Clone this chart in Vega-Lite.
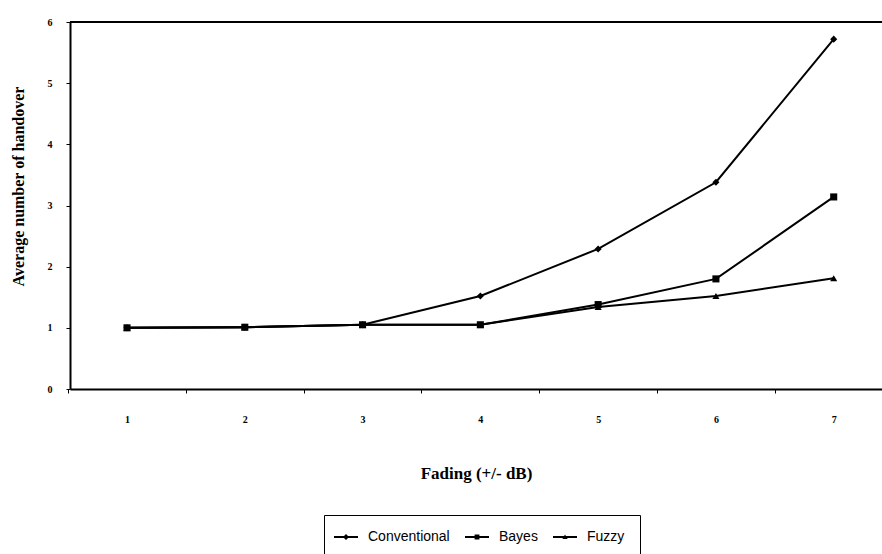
{
  "$schema": "https://vega.github.io/schema/vega-lite/v6.json",
  "width": 812,
  "height": 367,
  "autosize": {"type": "none"},
  "padding": {"left": 70, "top": 22, "right": 0, "bottom": 165},
  "background": "white",
  "config": {
    "view": {"stroke": null},
    "axis": {"grid": false, "domainColor": "black", "tickColor": "black", "labelColor": "black", "titleColor": "black", "domainWidth": 2, "tickWidth": 1}
  },
  "data": {
    "values": [
      {"fading": 1, "series": "Conventional", "value": 1.0},
      {"fading": 2, "series": "Conventional", "value": 1.01},
      {"fading": 3, "series": "Conventional", "value": 1.05},
      {"fading": 4, "series": "Conventional", "value": 1.52},
      {"fading": 5, "series": "Conventional", "value": 2.29},
      {"fading": 6, "series": "Conventional", "value": 3.38},
      {"fading": 7, "series": "Conventional", "value": 5.72},
      {"fading": 1, "series": "Bayes", "value": 1.0},
      {"fading": 2, "series": "Bayes", "value": 1.01},
      {"fading": 3, "series": "Bayes", "value": 1.05},
      {"fading": 4, "series": "Bayes", "value": 1.05},
      {"fading": 5, "series": "Bayes", "value": 1.38},
      {"fading": 6, "series": "Bayes", "value": 1.8},
      {"fading": 7, "series": "Bayes", "value": 3.14},
      {"fading": 1, "series": "Fuzzy", "value": 1.0},
      {"fading": 2, "series": "Fuzzy", "value": 1.01},
      {"fading": 3, "series": "Fuzzy", "value": 1.05},
      {"fading": 4, "series": "Fuzzy", "value": 1.05},
      {"fading": 5, "series": "Fuzzy", "value": 1.34},
      {"fading": 6, "series": "Fuzzy", "value": 1.52},
      {"fading": 7, "series": "Fuzzy", "value": 1.81}
    ]
  },
  "encoding": {
    "x": {
      "field": "fading", "type": "quantitative",
      "scale": {"domain": [0.516, 7.41], "nice": false, "zero": false},
      "axis": {
        "values": [1, 2, 3, 4, 5, 6, 7],
        "tickOffset": -59, "labelOffset": 59,
        "tickSize": 4, "labelPadding": 21,
        "labelFont": "Liberation Serif", "labelFontWeight": "bold", "labelFontSize": 10,
        "title": "Fading (+/- dB)", "titleFont": "Liberation Serif", "titleFontWeight": "bold", "titleFontSize": 17,
        "titlePadding": 41, "labelFlush": false
      }
    },
    "y": {
      "field": "value", "type": "quantitative",
      "scale": {"domain": [0, 6], "nice": false},
      "axis": {
        "values": [0, 1, 2, 3, 4, 5, 6],
        "tickSize": 4, "labelPadding": 14,
        "labelFont": "Liberation Serif", "labelFontWeight": "bold", "labelFontSize": 10,
        "title": "Average number of handover", "titleFont": "Liberation Serif", "titleFontWeight": "bold", "titleFontSize": 16,
        "titleX": -52, "titleY": 164, "titleAlign": "center", "titleBaseline": "middle", "titleAngle": -90
      }
    }
  },
  "layer": [
    {
      "mark": {"type": "rule", "color": "black", "strokeWidth": 2},
      "encoding": {"x": {"datum": 0.516}, "x2": {"datum": 7.41}, "y": {"datum": 6}}
    },
    {
      "mark": {"type": "line", "color": "black", "strokeWidth": 2},
      "encoding": {"detail": {"field": "series"}}
    },
    {
      "mark": {"type": "point", "filled": true, "color": "black", "size": 50, "opacity": 1},
      "encoding": {
        "shape": {
          "field": "series", "type": "nominal",
          "scale": {"domain": ["Conventional", "Bayes", "Fuzzy"], "range": ["diamond", "square", "triangle-up"]},
          "legend": null
        }
      }
    },
    {
      "mark": {"type": "point", "filled": true, "color": "black", "size": 64, "opacity": 0},
      "encoding": {
        "shape": {
          "field": "series", "type": "nominal",
          "scale": {"domain": ["Conventional", "Bayes", "Fuzzy"], "range": [
            "M-3,-0.22L3,-0.22L3,0.22L-3,0.22ZM-0.75,0L0,-0.75L0.75,0L0,0.75Z",
            "M-3,-0.22L3,-0.22L3,0.22L-3,0.22ZM-0.6,-0.6L0.6,-0.6L0.6,0.6L-0.6,0.6Z",
            "M-3,-0.22L3,-0.22L3,0.22L-3,0.22ZM-0.65,0.5L0,-0.65L0.65,0.5Z"
          ]},
          "legend": {
            "title": null,
            "orient": "none", "direction": "horizontal", "columns": 3,
            "legendX": 254, "legendY": 493,
            "strokeColor": "black", "padding": 15,
            "symbolSize": 64, "symbolOpacity": 1,
            "symbolFillColor": "black",
            "labelFont": "Liberation Sans", "labelFontSize": 14, "labelColor": "black",
            "columnPadding": 12, "labelOffset": 15,
            "encode": {
              "symbols": {
                "update": {
                  "fill": {"value": "black"},
                  "fillOpacity": {"value": 1},
                  "opacity": {"value": 1}
                }
              }
            }
          }
        }
      }
    }
  ],
  "resolve": {"scale": {"shape": "independent"}, "legend": {"shape": "independent"}}
}
